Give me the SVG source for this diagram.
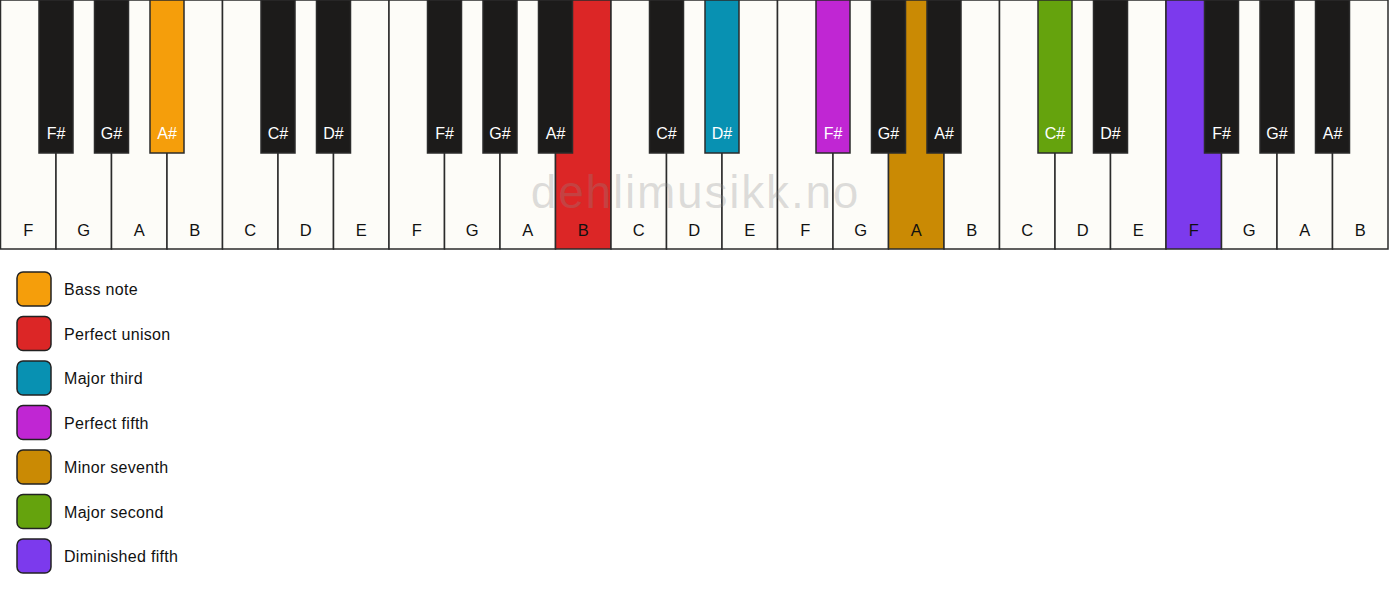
<svg xmlns="http://www.w3.org/2000/svg" width="1389" height="594" viewBox="0 0 1389 594">
<style>
text{font-family:"Liberation Sans",Arial,sans-serif;}
.w{fill:#fdfcf8;stroke:#2b2b2b;stroke-width:1.5;}
.b{fill:#1c1b1a;stroke:#2b2b2b;stroke-width:1.5;}
.wl{font-size:16.5px;fill:#111;text-anchor:middle;}
.bl{font-size:16px;fill:#fff;text-anchor:middle;}
.sw{stroke:#222;stroke-width:1.5;}
.lt{font-size:16px;fill:#111;letter-spacing:0.3px;}
.wm{font-size:46px;fill:#8a8a8a;fill-opacity:0.28;text-anchor:middle;letter-spacing:1.8px;}
</style>
<rect width="1389" height="594" fill="#ffffff"/>
<g id="white-keys">
<g id="w0"><rect class="w" x="0.5" y="0" width="55.5" height="249"/><text class="wl" x="28.25" y="236">F</text></g>
<g id="w1"><rect class="w" x="56" y="0" width="55.5" height="249"/><text class="wl" x="83.75" y="236">G</text></g>
<g id="w2"><rect class="w" x="111.5" y="0" width="55.5" height="249"/><text class="wl" x="139.25" y="236">A</text></g>
<g id="w3"><rect class="w" x="167" y="0" width="55.5" height="249"/><text class="wl" x="194.75" y="236">B</text></g>
<g id="w4"><rect class="w" x="222.5" y="0" width="55.5" height="249"/><text class="wl" x="250.25" y="236">C</text></g>
<g id="w5"><rect class="w" x="278" y="0" width="55.5" height="249"/><text class="wl" x="305.75" y="236">D</text></g>
<g id="w6"><rect class="w" x="333.5" y="0" width="55.5" height="249"/><text class="wl" x="361.25" y="236">E</text></g>
<g id="w7"><rect class="w" x="389" y="0" width="55.5" height="249"/><text class="wl" x="416.75" y="236">F</text></g>
<g id="w8"><rect class="w" x="444.5" y="0" width="55.5" height="249"/><text class="wl" x="472.25" y="236">G</text></g>
<g id="w9"><rect class="w" x="500" y="0" width="55.5" height="249"/><text class="wl" x="527.75" y="236">A</text></g>
<g id="w10"><rect class="w" x="555.5" y="0" width="55.5" height="249" style="fill:#dc2626"/><text class="wl" x="583.25" y="236">B</text></g>
<g id="w11"><rect class="w" x="611" y="0" width="55.5" height="249"/><text class="wl" x="638.75" y="236">C</text></g>
<g id="w12"><rect class="w" x="666.5" y="0" width="55.5" height="249"/><text class="wl" x="694.25" y="236">D</text></g>
<g id="w13"><rect class="w" x="722" y="0" width="55.5" height="249"/><text class="wl" x="749.75" y="236">E</text></g>
<g id="w14"><rect class="w" x="777.5" y="0" width="55.5" height="249"/><text class="wl" x="805.25" y="236">F</text></g>
<g id="w15"><rect class="w" x="833" y="0" width="55.5" height="249"/><text class="wl" x="860.75" y="236">G</text></g>
<g id="w16"><rect class="w" x="888.5" y="0" width="55.5" height="249" style="fill:#ca8a04"/><text class="wl" x="916.25" y="236">A</text></g>
<g id="w17"><rect class="w" x="944" y="0" width="55.5" height="249"/><text class="wl" x="971.75" y="236">B</text></g>
<g id="w18"><rect class="w" x="999.5" y="0" width="55.5" height="249"/><text class="wl" x="1027.25" y="236">C</text></g>
<g id="w19"><rect class="w" x="1055" y="0" width="55.5" height="249"/><text class="wl" x="1082.75" y="236">D</text></g>
<g id="w20"><rect class="w" x="1110.5" y="0" width="55.5" height="249"/><text class="wl" x="1138.25" y="236">E</text></g>
<g id="w21"><rect class="w" x="1166" y="0" width="55.5" height="249" style="fill:#7c3aed"/><text class="wl" x="1193.75" y="236">F</text></g>
<g id="w22"><rect class="w" x="1221.5" y="0" width="55.5" height="249"/><text class="wl" x="1249.25" y="236">G</text></g>
<g id="w23"><rect class="w" x="1277" y="0" width="55.5" height="249"/><text class="wl" x="1304.75" y="236">A</text></g>
<g id="w24"><rect class="w" x="1332.5" y="0" width="55.5" height="249"/><text class="wl" x="1360.25" y="236">B</text></g>
</g>
<text class="wm" x="695.5" y="208">dehlimusikk.no</text>
<g id="black-keys">
<g id="b1"><rect class="b" x="39" y="0" width="34" height="153"/><text class="bl" x="56" y="139">F#</text></g>
<g id="b2"><rect class="b" x="94.5" y="0" width="34" height="153"/><text class="bl" x="111.5" y="139">G#</text></g>
<g id="b3"><rect class="b" x="150" y="0" width="34" height="153" style="fill:#f59e0b"/><text class="bl" x="167" y="139">A#</text></g>
<g id="b4"><rect class="b" x="261" y="0" width="34" height="153"/><text class="bl" x="278" y="139">C#</text></g>
<g id="b5"><rect class="b" x="316.5" y="0" width="34" height="153"/><text class="bl" x="333.5" y="139">D#</text></g>
<g id="b6"><rect class="b" x="427.5" y="0" width="34" height="153"/><text class="bl" x="444.5" y="139">F#</text></g>
<g id="b7"><rect class="b" x="483" y="0" width="34" height="153"/><text class="bl" x="500" y="139">G#</text></g>
<g id="b8"><rect class="b" x="538.5" y="0" width="34" height="153"/><text class="bl" x="555.5" y="139">A#</text></g>
<g id="b9"><rect class="b" x="649.5" y="0" width="34" height="153"/><text class="bl" x="666.5" y="139">C#</text></g>
<g id="b10"><rect class="b" x="705" y="0" width="34" height="153" style="fill:#0891b2"/><text class="bl" x="722" y="139">D#</text></g>
<g id="b11"><rect class="b" x="816" y="0" width="34" height="153" style="fill:#c026d3"/><text class="bl" x="833" y="139">F#</text></g>
<g id="b12"><rect class="b" x="871.5" y="0" width="34" height="153"/><text class="bl" x="888.5" y="139">G#</text></g>
<g id="b13"><rect class="b" x="927" y="0" width="34" height="153"/><text class="bl" x="944" y="139">A#</text></g>
<g id="b14"><rect class="b" x="1038" y="0" width="34" height="153" style="fill:#65a30d"/><text class="bl" x="1055" y="139">C#</text></g>
<g id="b15"><rect class="b" x="1093.5" y="0" width="34" height="153"/><text class="bl" x="1110.5" y="139">D#</text></g>
<g id="b16"><rect class="b" x="1204.5" y="0" width="34" height="153"/><text class="bl" x="1221.5" y="139">F#</text></g>
<g id="b17"><rect class="b" x="1260" y="0" width="34" height="153"/><text class="bl" x="1277" y="139">G#</text></g>
<g id="b18"><rect class="b" x="1315.5" y="0" width="34" height="153"/><text class="bl" x="1332.5" y="139">A#</text></g>
</g>
<g id="legend">
<g id="lg-bass"><rect class="sw" x="17" y="272" width="34" height="34" rx="6" fill="#f59e0b"/><text class="lt" x="64" y="295">Bass note</text></g>
<g id="lg-unison"><rect class="sw" x="17" y="316.5" width="34" height="34" rx="6" fill="#dc2626"/><text class="lt" x="64" y="339.5">Perfect unison</text></g>
<g id="lg-third"><rect class="sw" x="17" y="361" width="34" height="34" rx="6" fill="#0891b2"/><text class="lt" x="64" y="384">Major third</text></g>
<g id="lg-fifth"><rect class="sw" x="17" y="405.5" width="34" height="34" rx="6" fill="#c026d3"/><text class="lt" x="64" y="428.5">Perfect fifth</text></g>
<g id="lg-seventh"><rect class="sw" x="17" y="450" width="34" height="34" rx="6" fill="#ca8a04"/><text class="lt" x="64" y="473">Minor seventh</text></g>
<g id="lg-second"><rect class="sw" x="17" y="494.5" width="34" height="34" rx="6" fill="#65a30d"/><text class="lt" x="64" y="517.5">Major second</text></g>
<g id="lg-dim"><rect class="sw" x="17" y="539" width="34" height="34" rx="6" fill="#7c3aed"/><text class="lt" x="64" y="562">Diminished fifth</text></g>
</g>
</svg>
